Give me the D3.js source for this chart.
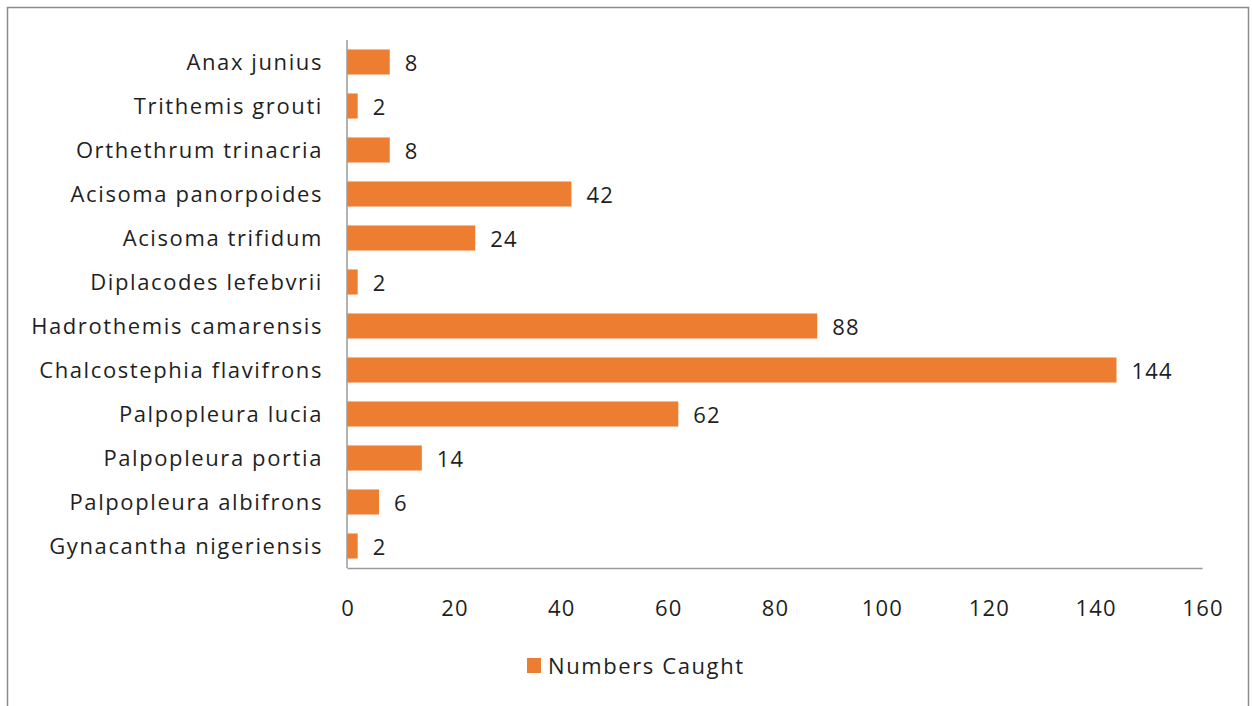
<!doctype html>
<html>
  <head>
    <script src="https://d3js.org/d3.v7.min.js"></script>
    <style>
      body { margin: 0; background: #fff; }
      text { font-family: "Open Sans", sans-serif; fill: #1f1f1f; }
    </style>
  </head>
  <body>
    <svg id="chart" width="1252" height="706"></svg>
    <script>
      // species, top to bottom as in the chart
      let species = ["Anax junius", "Trithemis grouti", "Orthethrum trinacria", "Acisoma panorpoides",
        "Acisoma trifidum", "Diplacodes lefebvrii", "Hadrothemis camarensis", "Chalcostephia flavifrons",
        "Palpopleura lucia", "Palpopleura portia", "Palpopleura albifrons", "Gynacantha nigeriensis"];
      let caught = [8, 2, 8, 42, 24, 2, 88, 144, 62, 14, 6, 2];
      let xTicks = [0, 20, 40, 60, 80, 100, 120, 140, 160];
      let seriesName = "Numbers Caught";

      var svg = d3.select("#chart");
      var orange = "#ED7D31";

      /* frame round the chart */
      svg.append("rect")
        .attr("x", 7.5).attr("y", 7.5)
        .attr("width", 1241).attr("height", 700)
        .attr("fill", "none").attr("stroke", "#8c8c8c").attr("stroke-width", 1.5);

      var plotLeft = 347, plotRight = 1202, plotTop = 40, plotBottom = 568;

      var x = d3.scaleLinear().domain([0, 160]).range([plotLeft, plotRight]);
      var y = d3.scaleBand().domain(species).range([plotTop, plotBottom]).paddingInner(0.43).paddingOuter(0.215);

      /* bars */
      svg.selectAll("rect.bar").data(species)
        .enter()
        .append("rect")
          .attr("class", "bar")
          .attr("x", x(0))
          .attr("y", d => y(d))
          .attr("height", y.bandwidth())
          .attr("width", (d, i) => x(caught[i]) - x(0))
          .attr("fill", orange);

      /* value labels */
      svg.selectAll("text.val").data(species)
        .enter()
        .append("text")
          .attr("class", "val")
          .attr("x", (d, i) => x(caught[i]) + 15)
          .attr("y", d => y(d) + y.bandwidth() / 2 + 9)
          .attr("font-size", 22)
          .attr("letter-spacing", 1.2)
          .text((d, i) => caught[i]);

      /* category labels */
      svg.selectAll("text.cat").data(species)
        .enter()
        .append("text")
          .attr("class", "cat")
          .attr("x", 323)
          .attr("y", d => y(d) + y.bandwidth() / 2 + 8)
          .attr("text-anchor", "end")
          .attr("font-size", 22)
          .attr("letter-spacing", 1.6)
          .text(d => d);

      /* axis lines */
      svg.append("line")
        .attr("x1", plotLeft).attr("x2", plotLeft).attr("y1", plotTop).attr("y2", plotBottom)
        .attr("stroke", "#9a9a9a").attr("stroke-width", 1.5);

      var xAxis = svg.append("g")
        .attr("transform", "translate(0," + plotBottom + ")")
        .call(d3.axisBottom(x).tickValues(xTicks).tickSize(0).tickPadding(32));
      xAxis.select(".domain").attr("stroke", "#9a9a9a").attr("stroke-width", 1.5);
      xAxis.selectAll("text").attr("font-size", 22).attr("fill", "#1f1f1f")
        .attr("letter-spacing", 1.2).attr("dx", 0.6)
        .style("font-family", "'Open Sans', sans-serif");

      /* legend */
      svg.append("rect")
        .attr("x", 527).attr("y", 658).attr("width", 14).attr("height", 15)
        .attr("fill", orange);
      svg.append("text")
        .attr("x", 548).attr("y", 674)
        .attr("font-size", 22)
        .attr("letter-spacing", 1.6)
        .text(seriesName);
    </script>
  </body>
</html>
